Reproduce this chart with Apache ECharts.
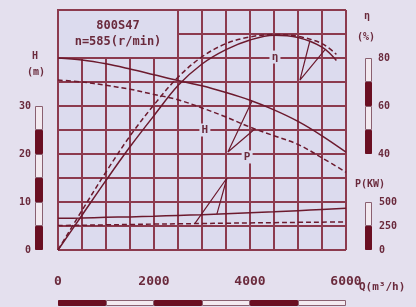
<!DOCTYPE html>
<html><head><meta charset="utf-8">
<style>html,body{margin:0;padding:0;background:#e4e0ee;overflow:hidden}#c{width:416px;height:307px}</style>
</head><body><div id="c"></div>
<script src="https://cdn.jsdelivr.net/npm/echarts@6.0.0/dist/echarts.min.js"></script>
<script>
// ---- data ----
const flowQ      = [0, 500, 1000, 1500, 2000, 2500, 3000, 3500, 4000, 4500, 5000, 5500, 6000];
const headSolid  = [40, 39.6, 38.8, 37.7, 36.5, 35.3, 34.2, 32.8, 31.2, 29.2, 26.8, 23.8, 20.4];
const headDashed = [35.4, 35, 34.3, 33.5, 32.4, 31.3, 29.6, 27.7, 25.6, 23.8, 22, 19.2, 16.2];
const etaQ       = [0, 500, 1000, 1500, 2000, 2500, 3000, 3500, 4000, 4500, 5000, 5500, 5800];
const etaSolid   = [0, 14.5, 29, 43, 56, 68.5, 77.5, 83.5, 87.5, 89.5, 88.5, 84.5, 79];
const etaDashed  = [0, 16.5, 32.5, 47.5, 60.5, 72, 80.5, 86, 88.8, 89.8, 89, 86, 81.5];
const powerSolid = [330, 333, 340, 345, 352, 360, 368, 378, 388, 398, 410, 422, 435];
const powerDashed= [255, 258, 262, 266, 270, 273, 276, 279, 282, 285, 288, 290, 292];
// operating-range marks [Q, value]
const etaMark    = [[5250, 87.3], [5040, 70.8], [5560, 83.4]];
const headMark   = [[4040, 31.0], [3540, 20.4], [4100, 25.2]];
const powerMark  = [[2850, 275], [3520, 750], [3310, 374]];
// curve labels [Q, value]
const etaLabelAt   = [4520, 80.4];
const headLabelAt  = [3060, 25];
const powerLabelAt = [3940, 969];
// tick labels & scale bars
const xTickLabels  = [0, 2000, 4000, 6000];
const hTickLabels  = [0, 10, 20, 30];
const etaTickLabels= [40, 60, 80];
const pTickLabels  = [0, 250, 500];
const hBarSteps    = [5, 5, 5, 5, 5, 5];
const etaBarBase   = 40;
const etaBarSteps  = [10, 10, 10, 10];
const pBarSteps    = [250, 250];
const qBarSteps    = [1000, 1000, 1000, 1000, 1000, 1000];
const titleLines   = ['800S47', 'n=585(r/min)'];

// ---- styles ----
const PLOT = '#dcdbee', GRID = '#8c3a4e', CURVE = '#6c1a2e', DARK = '#6a0f22', LIGHT = '#f3eaf0', TXT = '#6a2a3c';
const mono = 'DejaVu Sans Mono';
const pair = (xs, ys) => xs.map((x, i) => [x, ys[i]]);

const series = [];
function curve(name, xs, ys, yIdx, dashed, extra) {
  series.push(Object.assign({
    name, type: 'line', xAxisIndex: 0, yAxisIndex: yIdx, data: pair(xs, ys),
    smooth: 0.35, symbol: 'none', silent: true, z: 3,
    lineStyle: { color: CURVE, width: 1.5, type: dashed ? [5, 3] : 'solid' }
  }, extra || {}));
}
const labelPoint = (txt, at) => ({
  symbol: 'rect', symbolSize: [11, 13], silent: true,
  itemStyle: { color: PLOT },
  label: { show: true, position: 'inside', formatter: txt, color: TXT, fontFamily: mono, fontWeight: 'bold', fontSize: 11 },
  data: [{ coord: at }]
});
curve('H', flowQ, headSolid, 0, false, {
  markArea: {
    silent: true,
    itemStyle: { color: PLOT, borderColor: GRID, borderWidth: 2 },
    label: { show: true, position: 'inside', formatter: titleLines.join('\n'), color: TXT, fontFamily: mono, fontWeight: 'bold', fontSize: 12, lineHeight: 16 },
    data: [[{ coord: [0, 40] }, { coord: [2500, 50] }]]
  },
  markPoint: labelPoint('H', headLabelAt)
});
curve('H2', flowQ, headDashed, 0, true);
curve('eta', etaQ, etaSolid, 1, false, { markPoint: labelPoint('η', etaLabelAt) });
curve('eta2', etaQ, etaDashed, 1, true);
curve('P', flowQ, powerSolid, 2, false, { markPoint: labelPoint('P', powerLabelAt) });
curve('P2', flowQ, powerDashed, 2, true);
[[etaMark, 1], [headMark, 0], [powerMark, 2]].forEach(([m, yi]) => series.push({
  type: 'line', xAxisIndex: 0, yAxisIndex: yi, data: m, symbol: 'none', silent: true, z: 3,
  lineStyle: { color: CURVE, width: 1.2 }
}));

function barStack(steps, xi, yi, stack, width, base, horizontal) {
  if (base) series.push({ type: 'bar', xAxisIndex: xi, yAxisIndex: yi, stack, data: [base], barWidth: width, silent: true, itemStyle: { color: 'transparent' } });
  steps.forEach((s, i) => series.push({
    type: 'bar', xAxisIndex: xi, yAxisIndex: yi, stack, data: [s], barWidth: width, silent: true,
    itemStyle: { color: i % 2 === 0 ? DARK : LIGHT, borderColor: i % 2 === 0 ? DARK : '#8a6070', borderWidth: 1 }
  }));
}
barStack(hBarSteps, 1, 3, 'h', 8);
barStack(etaBarSteps, 2, 4, 'e', 7, etaBarBase);
barStack(pBarSteps, 3, 5, 'p', 7);
barStack(qBarSteps, 4, 6, 'q', 6, 0, true);

const lblStyle = (list, size) => ({
  formatter: v => list.includes(v) ? String(v) : '',
  color: TXT, fontFamily: mono, fontWeight: 'bold', fontSize: size
});
const hiddenAx = { axisLine: { show: false }, axisTick: { show: false }, splitLine: { show: false } };

const option = {
  backgroundColor: '#e4e0ee',
  animation: false,
  grid: [
    { left: 58, top: 10, width: 288, height: 240, show: true, backgroundColor: PLOT, borderWidth: 0 },
    { left: 35, top: 10, width: 8, height: 240 },
    { left: 365, top: 10, width: 7, height: 240 },
    { left: 365, top: 10, width: 7, height: 240 },
    { left: 58, top: 300, width: 288, height: 6 }
  ],
  xAxis: [
    { gridIndex: 0, type: 'value', min: 0, max: 6000, interval: 500,
      axisLine: { show: false }, axisTick: { show: false },
      splitLine: { show: true, lineStyle: { color: GRID, width: 2 } },
      axisLabel: Object.assign(lblStyle(xTickLabels, 13), { margin: 25 }) },
    { gridIndex: 1, type: 'category', data: ['H'], show: false },
    { gridIndex: 2, type: 'category', data: ['η'], show: false },
    { gridIndex: 3, type: 'category', data: ['P'], show: false },
    { gridIndex: 4, type: 'value', min: 0, max: 6000, show: false }
  ],
  yAxis: [
    { gridIndex: 0, type: 'value', min: 0, max: 50, interval: 5,
      axisLine: { show: false }, axisTick: { show: false }, axisLabel: { show: false },
      splitLine: { show: true, lineStyle: { color: GRID, width: 2 } } },
    { gridIndex: 0, type: 'value', min: 0, max: 100, show: false },
    { gridIndex: 0, type: 'value', min: 0, max: 2500, show: false },
    Object.assign({ gridIndex: 1, type: 'value', min: 0, max: 50, interval: 10,
      axisLabel: Object.assign(lblStyle(hTickLabels, 10), { margin: 4 }) }, hiddenAx),
    Object.assign({ gridIndex: 2, type: 'value', min: 0, max: 100, interval: 20, position: 'right',
      axisLabel: Object.assign(lblStyle(etaTickLabels, 10), { margin: 6 }) }, hiddenAx),
    Object.assign({ gridIndex: 3, type: 'value', min: 0, max: 2500, interval: 250, position: 'right',
      axisLabel: Object.assign(lblStyle(pTickLabels, 10), { margin: 7 }) }, hiddenAx),
    { gridIndex: 4, type: 'category', data: ['Q'], show: false }
  ],
  graphic: [
    ['H', 35, 56, 'center', 10], ['(m)', 36, 72, 'center', 10],
    ['η', 367, 16, 'center', 10], ['(%)', 366, 37, 'center', 10],
    ['P(KW)', 370, 184, 'center', 10], ['Q(m³/h)', 359, 287, 'left', 11]
  ].map(([t, x, y, a, s]) => ({
    type: 'text', x, y, silent: true,
    style: { text: t, fill: TXT, font: 'bold ' + s + 'px "' + mono + '"', textAlign: a, textVerticalAlign: 'middle' }
  })),
  series
};
const chart = echarts.init(document.getElementById('c'), null, { renderer: 'canvas' });
chart.setOption(option);
</script>
</body></html>
